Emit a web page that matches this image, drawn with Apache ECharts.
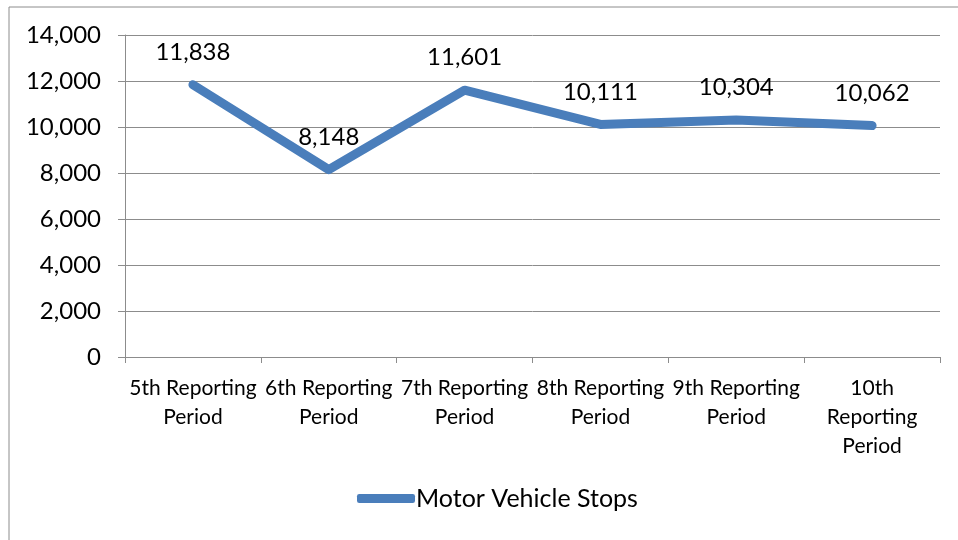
<!DOCTYPE html>
<html>
<head>
<meta charset="utf-8">
<script src="https://cdn.jsdelivr.net/npm/echarts@6/dist/echarts.min.js"></script>
<style>
  html, body { margin: 0; padding: 0; background: #fff; }
  #chart { width: 958px; height: 540px; }
</style>
</head>
<body>
<div id="chart"></div>
<script>
// 报告期
const categories = [
  '5th Reporting\nPeriod',
  '6th Reporting\nPeriod',
  '7th Reporting\nPeriod',
  '8th Reporting\nPeriod',
  '9th Reporting\nPeriod',
  '10th\nReporting\nPeriod'
]
// 机动车拦截数
const stops = [11838, 8148, 11601, 10111, 10304, 10062]
const yTicks = [0, 2000, 4000, 6000, 8000, 10000, 12000, 14000]

const font = 'Lato'
const gray = '#8c8c8c'
const fmt = (v) => Number(v).toLocaleString('en-US')

const myChart = echarts.init(document.getElementById('chart'))
const option = {
  animation: false,
  textStyle: { fontFamily: font },
  graphic: [
    {
      type: 'rect',
      shape: { x: 9, y: 7, width: 1000, height: 600 },
      style: { fill: 'none', stroke: gray, lineWidth: 1 }
    }
  ],
  grid: {
    left: 125,
    right: 18,
    top: 35,
    bottom: 183
  },
  legend: {
    bottom: 24,
    left: 352,
    icon: 'roundRect',
    itemWidth: 58,
    itemHeight: 9,
    itemGap: 0,
    textStyle: { fontFamily: font, fontSize: 25, color: '#000', padding: [0, 0, 0, -4] },
    data: ['Motor Vehicle Stops']
  },
  xAxis: {
    type: 'category',
    boundaryGap: true,
    data: categories,
    axisLine: { lineStyle: { color: gray, width: 1 } },
    axisTick: { show: true, length: 6, lineStyle: { color: gray } },
    axisLabel: {
      interval: 0,
      margin: 17,
      color: '#000',
      fontFamily: font,
      fontSize: 21,
      lineHeight: 29
    }
  },
  yAxis: {
    type: 'value',
    min: yTicks[0],
    max: yTicks[yTicks.length - 1],
    interval: 2000,
    axisLine: { show: true, lineStyle: { color: gray, width: 1 } },
    axisTick: { show: true, length: 7, lineStyle: { color: gray } },
    axisLabel: {
      margin: 24,
      color: '#000',
      fontFamily: font,
      fontSize: 24,
      formatter: fmt
    },
    splitLine: { show: true, lineStyle: { color: gray, width: 1 } }
  },
  series: [
    {
      name: 'Motor Vehicle Stops',
      type: 'line',
      data: stops,
      symbol: 'circle',
      symbolSize: 1,
      showSymbol: true,
      color: '#4a7ebb',
      itemStyle: { color: '#4a7ebb' },
      lineStyle: { color: '#4a7ebb', width: 9, cap: 'round', join: 'round' },
      label: {
        show: true,
        position: 'top',
        distance: 20,
        color: '#000',
        fontFamily: font,
        fontSize: 24,
        formatter: (p) => fmt(p.value)
      }
    }
  ]
}
myChart.setOption(option)
</script>
</body>
</html>
